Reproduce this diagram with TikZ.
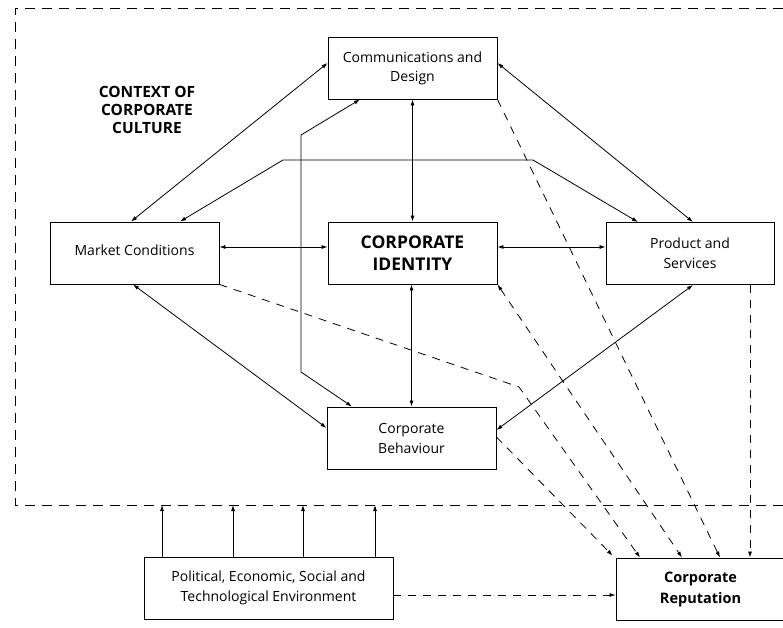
\documentclass[tikz,border=0pt]{standalone}
\usepackage{fontspec}
\setmainfont{Open Sans}
\usetikzlibrary{arrows.meta}
\begin{document}
\begin{tikzpicture}[x=1pt,y=-1pt,
  box/.style={draw,line width=0.9pt,inner sep=0pt,minimum width=169pt,minimum height=62pt,align=center,
    font=\fontsize{14}{20}\selectfont},
  conn/.style={line width=0.8pt,{Latex[length=6pt,width=4pt]}-{Latex[length=6pt,width=4pt]}},
  oneway/.style={line width=0.8pt,-{Latex[length=6pt,width=4pt]}},
  dashconn/.style={line width=0.8pt,dash pattern=on 8pt off 7pt,-{Latex[length=6pt,width=4pt]}},
  framedash/.style={line width=0.9pt,dash pattern=on 10pt off 7pt}]
\useasboundingbox (0,0) rectangle (783,628);
\clip (0,0) rectangle (783,628);
\fill[white] (0,0) rectangle (783,628);
% frame
\coordinate (ftl) at (15,8);
\coordinate (fbl) at (15,505);
\draw[framedash] (800,8) -- (ftl) -- (fbl) -- (800,505);
\node[align=center,font=\fontsize{15.5}{18}\selectfont\bfseries] (ctx) at (147,110) {CONTEXT OF\\CORPORATE\\CULTURE};
% boxes
\node[box] (comm) at (412.5,68) {\raisebox{3pt}{\begin{tabular}{@{}c@{}}Communications and\\[-1pt]Design\end{tabular}}};
\node[box] (market) at (134.5,253) {\raisebox{5pt}{Market Conditions}};
\node[box,font=\fontsize{17.5}{22}\selectfont\bfseries] (ci) at (412.5,253) {CORPORATE\\IDENTITY};
\node[box,minimum width=168pt] (prod) at (690,253.5) {Product and\\Services};
\node[box] (cb) at (411.5,438) {Corporate\\Behaviour};
\node[box,minimum width=249pt] (pol) at (268.5,588) {Political, Economic, Social and\\Technological Environment};
\node[box,minimum width=169pt,font=\fontsize{14.5}{21}\selectfont\bfseries] (rep) at (700.5,589) {Corporate\\Reputation};
% solid connectors
\draw[conn] ([xshift=-3.5pt]market.north) -- ([yshift=5pt]comm.west);
\draw[conn] ([yshift=5pt]comm.east) -- ([xshift=3pt]prod.north);
\coordinate (p1) at (283,160);
\coordinate (p2) at (533,160);
\draw[conn] ([xshift=45.5pt]market.north) -- (p1) -- (p2) -- ([xshift=-52pt]prod.north);
\draw[conn] (comm.south) -- (ci.north);
\draw[conn] ([yshift=6pt]market.east) -- ([yshift=6pt]ci.west);
\draw[conn] ([yshift=6pt]ci.east) -- ([yshift=6pt]ci.east -| prod.west);
\draw[conn] ([xshift=-1pt]ci.south) -- (cb.north);
\draw[conn] ([xshift=-1.5pt]market.south) -- ([yshift=10pt]cb.west);
\draw[conn] ([xshift=3pt]prod.south) -- ([yshift=8pt]cb.east);
\coordinate (q1) at (301,372);
\coordinate (q2) at (301,135);
\draw[conn] ([xshift=-59.5pt]cb.north) -- (q1) -- (q2) -- ([xshift=-52.5pt]comm.south);
% dashed connectors to reputation
\draw[dashconn] ([yshift=1pt]cb.east) -- ([xshift=-3pt,yshift=2pt]rep.north west);
\coordinate (m1) at (519,387);
\draw[dashconn] (market.south east) -- (m1) -- ([xshift=-60.5pt]rep.north);
\draw[dashconn,{Latex[length=6pt,width=4pt]}-{Latex[length=6pt,width=4pt]}] (ci.south east) -- ([xshift=-18.5pt]rep.north);
\draw[dashconn] (comm.south east) -- ([xshift=19.5pt]rep.north);
\draw[dashconn] ([xshift=60pt]prod.south) -- ([xshift=60pt]prod.south |- rep.north);
\draw[dashconn] ([yshift=-7pt]pol.east) -- ([yshift=-7pt]pol.east -| rep.west);
% environment arrows
\foreach \dx in {-106.5,-35.5,34.5,106.5}
  \draw[oneway] ([xshift=\dx pt]pol.north) -- ([xshift=\dx pt]pol.north |- fbl);
\end{tikzpicture}
\end{document}
